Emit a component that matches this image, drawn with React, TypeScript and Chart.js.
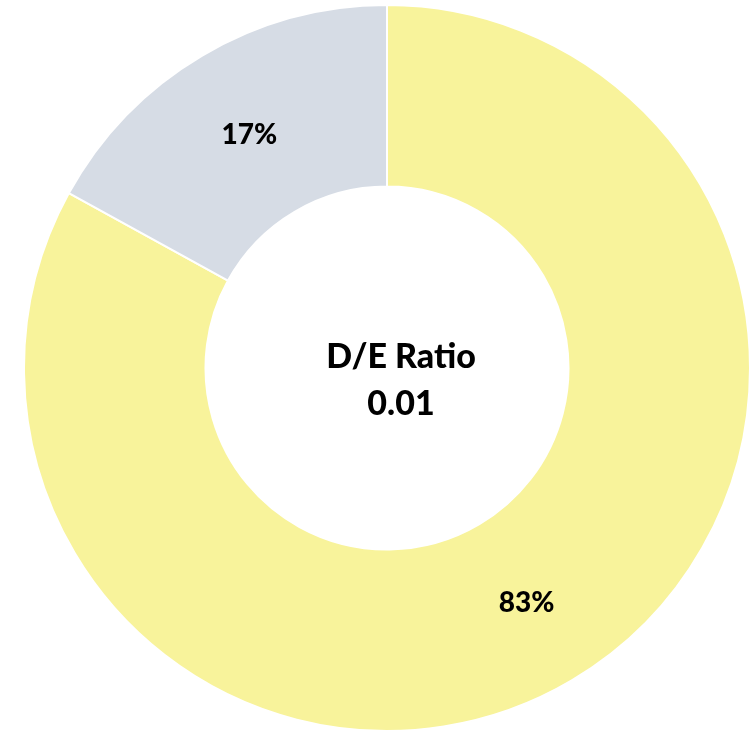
import React, { useEffect, useRef } from "react";
import { Chart, registerables } from "chart.js";

Chart.register(...registerables);

const categories = ["Equity", "Debt"];
const shares = [83, 17];
const colors = ["#F8F39B", "#D6DCE5"];
const centerTitle = "D/E Ratio";
const centerValue = "0.01";
const FONT = "Lato, 'Open Sans', sans-serif";

const labelPlugin = {
  id: "labels",
  afterDatasetsDraw(chart: any) {
    const ctx = chart.ctx;
    const meta = chart.getDatasetMeta(0);
    ctx.save();
    ctx.fillStyle = "#000";
    ctx.textAlign = "center";
    ctx.textBaseline = "middle";
    ctx.font = `900 28px ${FONT}`;
    meta.data.forEach((arc: any, i: number) => {
      const p = arc.tooltipPosition();
      ctx.fillText(`${shares[i]}%`, p.x + 1, p.y + 1);
    });
    const first = meta.data[0];
    const cx = first.x + 14;
    const cy = first.y;
    ctx.font = `900 34px ${FONT}`;
    ctx.fillText(centerTitle, cx, cy - 11);
    ctx.fillText(centerValue, cx, cy + 36);
    ctx.restore();
  },
};

export default function App() {
  const ref = useRef<HTMLCanvasElement | null>(null);
  useEffect(() => {
    if (!ref.current) return;
    const chart = new Chart(ref.current, {
      type: "doughnut",
      data: {
        labels: categories,
        datasets: [
          {
            data: shares,
            backgroundColor: colors,
            borderColor: "#FFFFFF",
            borderWidth: 2,
          },
        ],
      },
      options: {
        animation: false,
        responsive: true,
        maintainAspectRatio: false,
        cutout: "50%",
        plugins: {
          legend: { display: false },
          tooltip: { enabled: false },
        },
      },
      plugins: [labelPlugin],
    });
    return () => chart.destroy();
  }, []);
  return (
    <div style={{ position: "fixed", inset: 0, overflow: "hidden", background: "#fff" }}>
      <div style={{ position: "absolute", left: 0, top: 4, width: 774, height: 728 }}>
        <canvas ref={ref} />
      </div>
    </div>
  );
}
